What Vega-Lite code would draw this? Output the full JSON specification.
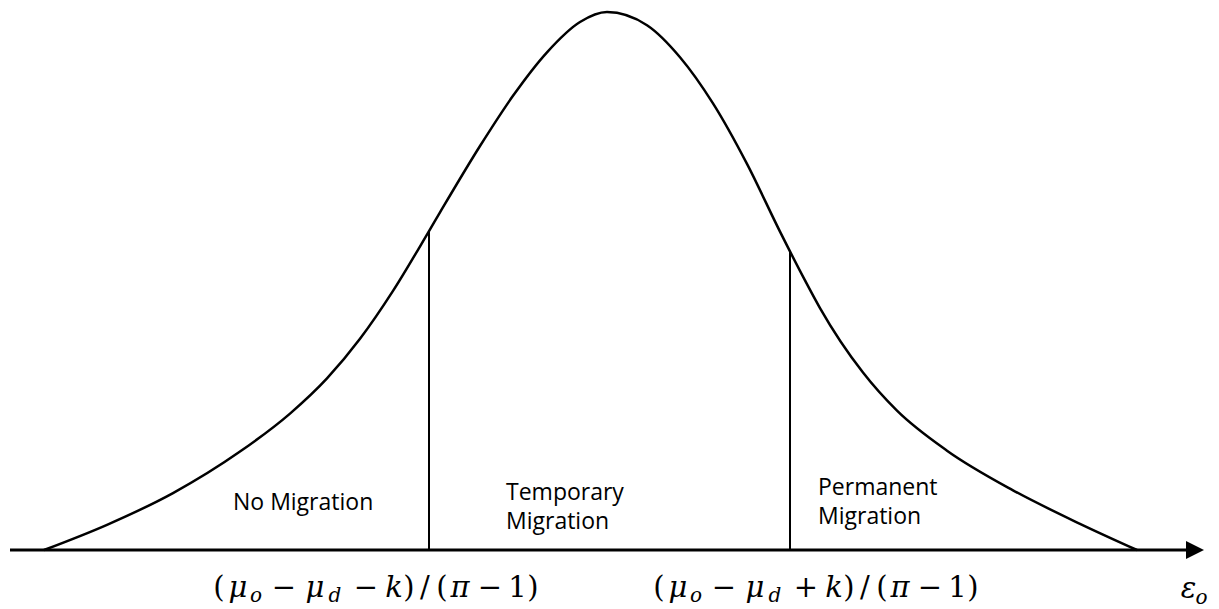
{
  "$schema": "https://vega.github.io/schema/vega-lite/v6.json",
  "width": 1219,
  "height": 609,
  "autosize": {"type": "fit", "contains": "padding"},
  "padding": 0,
  "background": "white",
  "config": {"view": {"stroke": null}},
  "datasets": {
    "axisline": [{"x": 10, "x2": 1188, "h": 0}],
    "arrow": [{"x": 1195, "h": 0}],
    "curve": [
      {"x": 44, "h": 0}, {"x": 107, "h": 25.2}, {"x": 173, "h": 56.9}, {"x": 240, "h": 98.4},
      {"x": 290, "h": 136.4}, {"x": 327, "h": 171.6}, {"x": 360, "h": 211.2}, {"x": 393, "h": 259.1},
      {"x": 428, "h": 317.2}, {"x": 440, "h": 337.6}, {"x": 480, "h": 404}, {"x": 513, "h": 454.2},
      {"x": 547, "h": 497.7}, {"x": 580, "h": 528}, {"x": 607, "h": 538}, {"x": 647, "h": 524.8},
      {"x": 680, "h": 492.8}, {"x": 713, "h": 446.6}, {"x": 747, "h": 386.1}, {"x": 780, "h": 318.4},
      {"x": 805, "h": 269.6}, {"x": 820, "h": 241.9}, {"x": 863, "h": 177.4}, {"x": 897, "h": 139.3},
      {"x": 947, "h": 99.3}, {"x": 1013, "h": 59.7}, {"x": 1080, "h": 26.2}, {"x": 1137, "h": 0}
    ],
    "cuts": [{"x": 429, "h": 319}, {"x": 790, "h": 298}],
    "labels": [
      {"x": 233, "h": 40, "text": "No Migration"},
      {"x": 506, "h": 50, "text": "Temporary\nMigration"},
      {"x": 818, "h": 55, "text": "Permanent\nMigration"}
    ],
    "math": [
      {"x": 219, "h": -47, "text": "(", "role": "up"},
      {"x": 238, "h": -47, "text": "μ", "role": "it"},
      {"x": 256, "h": -52, "text": "o", "role": "sub"},
      {"x": 284, "h": -47, "text": "−", "role": "up"},
      {"x": 315, "h": -47, "text": "μ", "role": "it"},
      {"x": 335, "h": -52, "text": "d", "role": "sub"},
      {"x": 366, "h": -47, "text": "−", "role": "up"},
      {"x": 394, "h": -47, "text": "k", "role": "it"},
      {"x": 409, "h": -47, "text": ")", "role": "up"},
      {"x": 425, "h": -47, "text": "/", "role": "up"},
      {"x": 442, "h": -47, "text": "(", "role": "up"},
      {"x": 460, "h": -47, "text": "π", "role": "it"},
      {"x": 490, "h": -47, "text": "−", "role": "up"},
      {"x": 517.5, "h": -47, "text": "1", "role": "up"},
      {"x": 533, "h": -47, "text": ")", "role": "up"},
      {"x": 659, "h": -47, "text": "(", "role": "up"},
      {"x": 678, "h": -47, "text": "μ", "role": "it"},
      {"x": 696, "h": -52, "text": "o", "role": "sub"},
      {"x": 724, "h": -47, "text": "−", "role": "up"},
      {"x": 755, "h": -47, "text": "μ", "role": "it"},
      {"x": 775, "h": -52, "text": "d", "role": "sub"},
      {"x": 806, "h": -47, "text": "+", "role": "up"},
      {"x": 834, "h": -47, "text": "k", "role": "it"},
      {"x": 849, "h": -47, "text": ")", "role": "up"},
      {"x": 865, "h": -47, "text": "/", "role": "up"},
      {"x": 882, "h": -47, "text": "(", "role": "up"},
      {"x": 900, "h": -47, "text": "π", "role": "it"},
      {"x": 930, "h": -47, "text": "−", "role": "up"},
      {"x": 957.5, "h": -47, "text": "1", "role": "up"},
      {"x": 973, "h": -47, "text": ")", "role": "up"},
      {"x": 1188.5, "h": -48, "text": "ε", "role": "it"},
      {"x": 1201.5, "h": -54, "text": "o", "role": "sub"}
    ]
  },
  "encoding": {
    "x": {"field": "x", "type": "quantitative", "scale": {"domain": [0, 1219], "nice": false, "zero": false}, "axis": null},
    "y": {"field": "h", "type": "quantitative", "scale": {"domain": [-59, 550], "nice": false, "zero": false}, "axis": null}
  },
  "layer": [
    {
      "data": {"name": "axisline"},
      "mark": {"type": "rule", "color": "black", "strokeWidth": 3},
      "encoding": {"x2": {"field": "x2"}}
    },
    {
      "data": {"name": "arrow"},
      "mark": {"type": "point", "shape": "M-1,-1L1,0L-1,1Z", "filled": true, "color": "black", "size": 324, "opacity": 1, "strokeWidth": 0}
    },
    {
      "data": {"name": "curve"},
      "mark": {"type": "line", "interpolate": "monotone", "color": "black", "strokeWidth": 2.5}
    },
    {
      "data": {"name": "cuts"},
      "mark": {"type": "rule", "color": "black", "strokeWidth": 2},
      "encoding": {"y2": {"datum": 0}}
    },
    {
      "data": {"name": "labels"},
      "mark": {"type": "text", "font": "Open Sans", "fontSize": 23, "align": "left", "baseline": "alphabetic", "color": "black", "lineBreak": "\n", "lineHeight": 29},
      "encoding": {"text": {"field": "text"}}
    },
    {
      "data": {"name": "math"},
      "transform": [{"filter": "datum.role === 'up'"}],
      "mark": {"type": "text", "font": "DejaVu Serif", "fontSize": 29, "align": "center", "baseline": "alphabetic", "color": "black"},
      "encoding": {"text": {"field": "text"}}
    },
    {
      "data": {"name": "math"},
      "transform": [{"filter": "datum.role === 'it'"}],
      "mark": {"type": "text", "font": "DejaVu Serif", "fontStyle": "italic", "fontSize": 29, "align": "center", "baseline": "alphabetic", "color": "black"},
      "encoding": {"text": {"field": "text"}}
    },
    {
      "data": {"name": "math"},
      "transform": [{"filter": "datum.role === 'sub'"}],
      "mark": {"type": "text", "font": "DejaVu Serif", "fontStyle": "italic", "fontSize": 20, "align": "center", "baseline": "alphabetic", "color": "black"},
      "encoding": {"text": {"field": "text"}}
    }
  ]
}
